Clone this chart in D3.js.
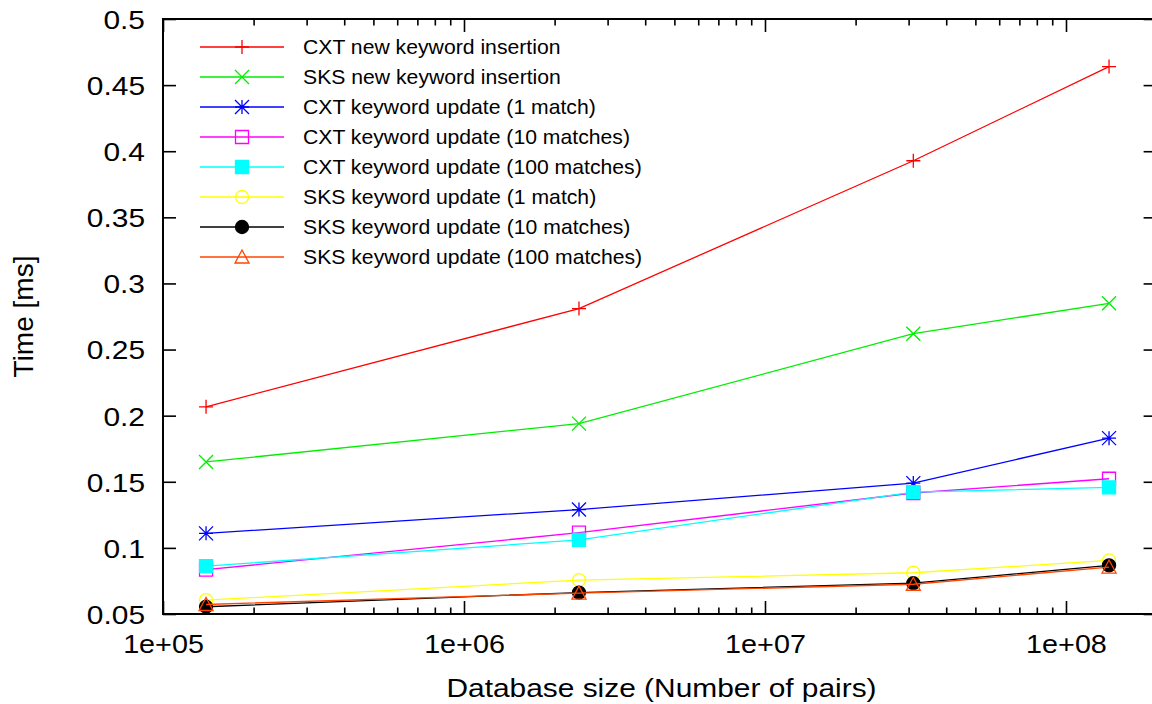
<!DOCTYPE html>
<html>
<head>
<meta charset="utf-8">
<script src="https://cdn.jsdelivr.net/npm/d3@7"></script>
<style>
  body { margin: 0; background: #fff; }
  text { font-family: "Liberation Sans", Arial, sans-serif; fill: #000; }
</style>
</head>
<body>
<div id="chart"></div>
<script>
// database sizes (x) and timings (ms) per series
const sizes = [1.39e5, 2.41e6, 3.11e7, 1.39e8];

const cxtNew   = [0.2067, 0.281, 0.3928, 0.464];
const sksNew   = [0.165, 0.194, 0.262, 0.285];
const cxtUpd1  = [0.111, 0.129, 0.149, 0.183];
const cxtUpd10 = [0.0835, 0.1115, 0.1415, 0.1523];
const cxtUpd100 = [0.0862, 0.106, 0.1422, 0.1458];
const sksUpd1  = [0.0605, 0.0756, 0.0812, 0.0905];
const sksUpd10 = [0.0555, 0.0662, 0.0733, 0.0868];
const sksUpd100 = [0.0572, 0.0658, 0.0725, 0.0855];

const seriesNames = [
    "CXT new keyword insertion",
    "SKS new keyword insertion",
    "CXT keyword update (1 match)",
    "CXT keyword update (10 matches)",
    "CXT keyword update (100 matches)",
    "SKS keyword update (1 match)",
    "SKS keyword update (10 matches)",
    "SKS keyword update (100 matches)"
];
const seriesValues = [cxtNew, sksNew, cxtUpd1, cxtUpd10, cxtUpd100, sksUpd1, sksUpd10, sksUpd100];
const seriesColors = ["#ff0000", "#00ee00", "#0000ff", "#ff00ff", "#00ffff", "#ffff00", "#000000", "#ff4500"];
const seriesMarkers = ["plus", "cross", "star", "square", "fsquare", "circle", "fcircle", "triangle"];

const xTicks = [1e5, 1e6, 1e7, 1e8];
const xTickLabels = ["1e+05", "1e+06", "1e+07", "1e+08"];
const yTicks = [0.05, 0.1, 0.15, 0.2, 0.25, 0.3, 0.35, 0.4, 0.45, 0.5];
const yTickLabels = ["0.05", "0.1", "0.15", "0.2", "0.25", "0.3", "0.35", "0.4", "0.45", "0.5"];

const W = 1152, H = 704;
const mLeft = 163, mRight = 1156.6, mTop = 19, mBottom = 614;
const SX = 1.15; // horizontal stretch of the text in the original

const svg = d3.select("#chart").append("svg")
    .attr("width", W).attr("height", H);

const x = d3.scaleLog().domain([1e5, 2e8]).range([mLeft, mRight]);
const y = d3.scaleLinear().domain([0.05, 0.5]).range([mBottom, mTop]);

// minor ticks 2..9 per decade
const minorTicks = [];
for (let e = 5; e <= 8; e++) {
    for (let m = 2; m <= 9; m++) {
        const v = m * Math.pow(10, e);
        if (v < 2e8) minorTicks.push(v);
    }
}

const gAxes = svg.append("g");

function styleAxis(g) {
    g.select(".domain").remove();
    g.selectAll(".tick line").attr("stroke", "#000").attr("stroke-width", 1.6);
}

// bottom
gAxes.append("g").attr("transform", `translate(0,${mBottom})`)
    .call(d3.axisBottom(x).tickValues(xTicks).tickSizeInner(-13).tickSizeOuter(0)
        .tickFormat((d, i) => xTickLabels[i]))
    .call(styleAxis)
    .call(g => g.selectAll(".tick text")
        .attr("y", null).attr("dy", null)
        .attr("font-size", 25)
        .attr("transform", `translate(0,39) scale(${SX},1)`));
gAxes.append("g").attr("transform", `translate(0,${mBottom})`)
    .call(d3.axisBottom(x).tickValues(minorTicks).tickSizeInner(-6.5).tickSizeOuter(0).tickFormat(""))
    .call(styleAxis);
// top
gAxes.append("g").attr("transform", `translate(0,${mTop})`)
    .call(d3.axisTop(x).tickValues(xTicks).tickSizeInner(-13).tickSizeOuter(0).tickFormat(""))
    .call(styleAxis);
gAxes.append("g").attr("transform", `translate(0,${mTop})`)
    .call(d3.axisTop(x).tickValues(minorTicks).tickSizeInner(-6.5).tickSizeOuter(0).tickFormat(""))
    .call(styleAxis);
// left
gAxes.append("g").attr("transform", `translate(${mLeft},0)`)
    .call(d3.axisLeft(y).tickValues(yTicks).tickSizeInner(-13).tickSizeOuter(0)
        .tickFormat((d, i) => yTickLabels[i]))
    .call(styleAxis)
    .call(g => g.selectAll(".tick text")
        .attr("x", null).attr("dy", "0.36em")
        .attr("font-size", 26)
        .attr("transform", `translate(-18,0) scale(${SX},1)`));
// right
gAxes.append("g").attr("transform", `translate(${mRight},0)`)
    .call(d3.axisRight(y).tickValues(yTicks).tickSizeInner(-13).tickSizeOuter(0).tickFormat(""))
    .call(styleAxis);

// frame
svg.append("rect")
    .attr("x", mLeft).attr("y", mTop)
    .attr("width", mRight - mLeft).attr("height", mBottom - mTop)
    .attr("fill", "none").attr("stroke", "#000").attr("stroke-width", 2);

// axis titles
svg.append("text")
    .attr("transform", `translate(${(mLeft + 1160) / 2},697) scale(${SX},1)`)
    .attr("text-anchor", "middle").attr("font-size", 26)
    .text("Database size (Number of pairs)");
svg.append("text")
    .attr("transform", `translate(33,${(mTop + mBottom) / 2}) rotate(-90)`)
    .attr("text-anchor", "middle").attr("font-size", 28)
    .text("Time [ms]");

// markers
const S = 7;
function markerPath(type) {
    switch (type) {
        case "plus": return `M${-S},0H${S}M0,${-S}V${S}`;
        case "cross": return `M${-S},${-S}L${S},${S}M${-S},${S}L${S},${-S}`;
        case "star": return `M${-S},0H${S}M0,${-S}V${S}M${-S},${-S}L${S},${S}M${-S},${S}L${S},${-S}`;
        case "square":
        case "fsquare": return `M${-S + 0.5},${-S + 0.5}H${S - 0.5}V${S - 0.5}H${-S + 0.5}Z`;
        case "triangle": return `M0,${-S}L${S},${S - 1}H${-S}Z`;
    }
    return null;
}
function drawMarker(g, type, color, cx, cy) {
    if (type === "circle" || type === "fcircle") {
        g.append("circle").attr("cx", cx).attr("cy", cy).attr("r", S - 0.5)
            .attr("fill", type === "fcircle" ? color : "none")
            .attr("stroke", color).attr("stroke-width", 1.3);
    } else {
        g.append("path").attr("transform", `translate(${cx},${cy})`)
            .attr("d", markerPath(type))
            .attr("fill", type === "fsquare" ? color : "none")
            .attr("stroke", color).attr("stroke-width", 1.3);
    }
}

const line = d3.line().x(d => x(d[0])).y(d => y(d[1]));
const gData = svg.append("g");
seriesValues.forEach((vals, i) => {
    const pts = sizes.map((s, j) => [s, vals[j]]);
    const g = gData.append("g");
    g.append("path").attr("d", line(pts))
        .attr("fill", "none").attr("stroke", seriesColors[i]).attr("stroke-width", 1.3);
    pts.forEach(p => drawMarker(g, seriesMarkers[i], seriesColors[i], x(p[0]), y(p[1])));
});

// legend
const gLegend = svg.append("g");
seriesNames.forEach((name, i) => {
    const ly = 47 + i * 30;
    const g = gLegend.append("g");
    g.append("line").attr("x1", 200).attr("x2", 284).attr("y1", ly).attr("y2", ly)
        .attr("stroke", seriesColors[i]).attr("stroke-width", 1.3);
    drawMarker(g, seriesMarkers[i], seriesColors[i], 242, ly);
    g.append("text")
        .attr("transform", `translate(303,${ly + 7}) scale(1.06,1)`)
        .attr("font-size", 20)
        .text(name);
});
</script>
</body>
</html>
